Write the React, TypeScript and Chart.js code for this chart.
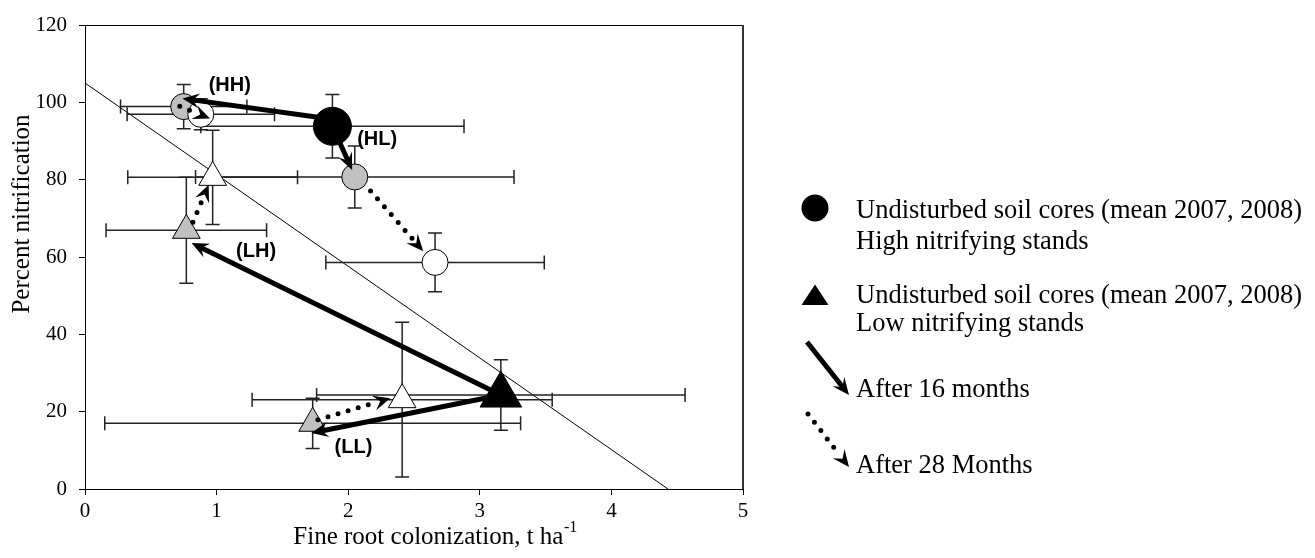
import { useEffect, useRef } from 'react';
import { Chart, registerables } from 'chart.js';

Chart.register(...registerables);

const SERIF = '"Liberation Serif", "Times New Roman", serif';
const SANS = '"Liberation Sans", Arial, sans-serif';

// Axis ticks
const xTickValues = [0, 1, 2, 3, 4, 5];
const yTickValues = [0, 20, 40, 60, 80, 100, 120];

// High nitrifying stands: undisturbed mean (black circle)
const highUndisturbedX = [1.88];
const highUndisturbedY = [93.8];
const highUndisturbedXErr = [1.0];
const highUndisturbedYErr = [8.2];

// High nitrifying stands after 16 months (grey circles): HH, HL
const high16X = [0.75, 2.05];
const high16Y = [98.9, 80.7];
const high16XErr = [0.48, 1.21];
const high16YErr = [5.7, 8.0];

// High nitrifying stands after 28 months (white circles): HH, HL
const high28X = [0.88, 2.66];
const high28Y = [96.9, 58.6];
const high28XErr = [0.56, 0.83];
const high28YErr = [4.0, 7.6];

// Low nitrifying stands: undisturbed mean (black triangle)
const lowUndisturbedX = [3.16];
const lowUndisturbedY = [24.3];
const lowUndisturbedXErr = [1.4];
const lowUndisturbedYErr = [9.1];

// Low nitrifying stands after 16 months (grey triangles): LH, LL
const low16X = [0.77, 1.73];
const low16Y = [66.9, 17.0];
const low16XErr = [0.61, 1.58];
const low16YErr = [13.7, 6.5];

// Low nitrifying stands after 28 months (white triangles): LH, LL
const low28X = [0.97, 2.41];
const low28Y = [80.6, 23.1];
const low28XErr = [0.645, 1.14];
const low28YErr = [12.2, 20.0];

// Reference line
const refLineX = [0, 4.43];
const refLineY = [105, 0];

// Arrows: after 16 months (solid), HH, HL, LH, LL
const solidFromX = [1.88, 1.88, 3.16, 3.16];
const solidFromY = [95.6, 93.8, 24.3, 24.3];
const solidToX = [0.74, 2.03, 0.81, 1.72];
const solidToY = [101.0, 82.5, 63.6, 14.5];

// Arrows: after 28 months (dotted), HH, HL, LH, LL
const dottedFromX = [0.72, 2.17, 0.82, 1.77];
const dottedFromY = [99.0, 77.1, 69.0, 17.9];
const dottedToX = [0.95, 2.57, 0.94, 2.32];
const dottedToY = [95.8, 61.5, 78.7, 23.5];

// Group annotations
const groupLabels = ['(HH)', '(HL)', '(LH)', '(LL)'];
const groupLabelX = [1.1, 2.22, 1.3, 2.04];
const groupLabelY = [104.4, 90.5, 61.5, 10.8];

const legendLines = [
  'Undisturbed soil cores (mean 2007, 2008)',
  'High nitrifying stands',
  'Undisturbed soil cores (mean 2007, 2008)',
  'Low nitrifying stands',
  'After 16 months',
  'After 28 Months',
];

const GREY = '#c0c0c0';

const toPts = (xs: number[], ys: number[]) => xs.map((x, i) => ({ x, y: ys[i] }));

const errSeries = [
  { x: highUndisturbedX, y: highUndisturbedY, xe: highUndisturbedXErr, ye: highUndisturbedYErr },
  { x: high16X, y: high16Y, xe: high16XErr, ye: high16YErr },
  { x: high28X, y: high28Y, xe: high28XErr, ye: high28YErr },
  { x: lowUndisturbedX, y: lowUndisturbedY, xe: lowUndisturbedXErr, ye: lowUndisturbedYErr },
  { x: low16X, y: low16Y, xe: low16XErr, ye: low16YErr },
  { x: low28X, y: low28Y, xe: low28XErr, ye: low28YErr },
];

function drawArrow(
  ctx: CanvasRenderingContext2D,
  x1: number, y1: number, x2: number, y2: number,
  dotted: boolean,
) {
  const lw = 5;
  const headLen = 17;
  const headW = 7.5;
  const dx = x2 - x1;
  const dy = y2 - y1;
  const len = Math.hypot(dx, dy) || 1;
  const ux = dx / len;
  const uy = dy / len;
  const nx = -uy;
  const ny = ux;
  const cut = dotted ? headLen * 0.95 : headLen * 0.6;
  ctx.save();
  ctx.strokeStyle = '#000';
  ctx.fillStyle = '#000';
  ctx.lineWidth = lw;
  if (dotted) {
    ctx.setLineDash([0, 10.5]);
    ctx.lineCap = 'round';
  } else {
    ctx.lineCap = 'butt';
  }
  ctx.beginPath();
  ctx.moveTo(x1, y1);
  ctx.lineTo(x2 - ux * cut, y2 - uy * cut);
  ctx.stroke();
  ctx.setLineDash([]);
  const bx = x2 - ux * headLen;
  const by = y2 - uy * headLen;
  ctx.beginPath();
  ctx.moveTo(x2, y2);
  ctx.lineTo(bx + nx * headW, by + ny * headW);
  ctx.lineTo(x2 - ux * headLen * 0.62, y2 - uy * headLen * 0.62);
  ctx.lineTo(bx - nx * headW, by - ny * headW);
  ctx.closePath();
  ctx.fill();
  ctx.restore();
}

const overlayPlugin = {
  id: 'overlay',
  beforeDatasetsDraw(chart: any) {
    const { ctx, chartArea: a, scales } = chart;
    const sx = scales.x;
    const sy = scales.y;
    ctx.save();
    // plot frame (top & right)
    ctx.strokeStyle = '#000';
    ctx.lineWidth = 1;
    ctx.beginPath();
    ctx.moveTo(a.left, Math.round(a.top) + 0.5);
    ctx.lineTo(a.right, Math.round(a.top) + 0.5);
    ctx.stroke();
    ctx.strokeStyle = '#333';
    ctx.lineWidth = 2;
    ctx.beginPath();
    ctx.moveTo(Math.round(a.right), a.top);
    ctx.lineTo(Math.round(a.right), a.bottom);
    ctx.stroke();

    // reference line
    ctx.strokeStyle = '#000';
    ctx.lineWidth = 1;
    ctx.beginPath();
    ctx.moveTo(sx.getPixelForValue(refLineX[0]), sy.getPixelForValue(refLineY[0]));
    ctx.lineTo(sx.getPixelForValue(refLineX[1]), sy.getPixelForValue(refLineY[1]));
    ctx.stroke();

    // error bars
    ctx.strokeStyle = '#222';
    ctx.lineWidth = 1.5;
    const cap = 7;
    errSeries.forEach((s) => {
      s.x.forEach((xv, i) => {
        const yv = s.y[i];
        const cx = sx.getPixelForValue(xv);
        const cy = sy.getPixelForValue(yv);
        const xl = sx.getPixelForValue(xv - s.xe[i]);
        const xr = sx.getPixelForValue(xv + s.xe[i]);
        const yt = sy.getPixelForValue(yv + s.ye[i]);
        const yb = sy.getPixelForValue(yv - s.ye[i]);
        ctx.beginPath();
        ctx.moveTo(xl, cy); ctx.lineTo(xr, cy);
        ctx.moveTo(xl, cy - cap); ctx.lineTo(xl, cy + cap);
        ctx.moveTo(xr, cy - cap); ctx.lineTo(xr, cy + cap);
        ctx.moveTo(cx, yt); ctx.lineTo(cx, yb);
        ctx.moveTo(cx - cap, yt); ctx.lineTo(cx + cap, yt);
        ctx.moveTo(cx - cap, yb); ctx.lineTo(cx + cap, yb);
        ctx.stroke();
      });
    });
    ctx.restore();
  },
  afterDatasetsDraw(chart: any) {
    const { ctx, scales } = chart;
    const sx = scales.x;
    const sy = scales.y;
    solidFromX.forEach((_, i) => {
      drawArrow(ctx,
        sx.getPixelForValue(solidFromX[i]), sy.getPixelForValue(solidFromY[i]),
        sx.getPixelForValue(solidToX[i]), sy.getPixelForValue(solidToY[i]), false);
    });
    dottedFromX.forEach((_, i) => {
      drawArrow(ctx,
        sx.getPixelForValue(dottedFromX[i]), sy.getPixelForValue(dottedFromY[i]),
        sx.getPixelForValue(dottedToX[i]), sy.getPixelForValue(dottedToY[i]), true);
    });
    ctx.save();
    ctx.fillStyle = '#000';
    ctx.font = `bold 20px ${SANS}`;
    ctx.textAlign = 'center';
    ctx.textBaseline = 'middle';
    groupLabels.forEach((t, i) => {
      ctx.fillText(t, sx.getPixelForValue(groupLabelX[i]), sy.getPixelForValue(groupLabelY[i]));
    });
    ctx.restore();
  },
  afterDraw(chart: any) {
    const { ctx, scales } = chart;
    const sx = scales.x;
    ctx.save();
    ctx.fillStyle = '#000';
    // x title with superscript
    const main = 'Fine root colonization, t ha';
    const sup = '-1';
    ctx.font = `25px ${SERIF}`;
    const wMain = ctx.measureText(main).width;
    ctx.font = `16px ${SERIF}`;
    const wSup = ctx.measureText(sup).width;
    const cx = sx.getPixelForValue(2.66);
    const startX = cx - (wMain + wSup) / 2;
    ctx.textAlign = 'left';
    ctx.textBaseline = 'alphabetic';
    ctx.font = `25px ${SERIF}`;
    ctx.fillText(main, startX, 543.5);
    ctx.font = `16px ${SERIF}`;
    ctx.fillText(sup, startX + wMain + 0.5, 532);

    // y title
    ctx.save();
    ctx.translate(22, 214);
    ctx.rotate(-Math.PI / 2);
    ctx.font = `25px ${SERIF}`;
    ctx.textAlign = 'center';
    ctx.textBaseline = 'middle';
    ctx.fillText('Percent nitrification', 0, 0);
    ctx.restore();

    // legend
    ctx.beginPath();
    ctx.arc(815, 208, 13.5, 0, Math.PI * 2);
    ctx.fill();
    ctx.beginPath();
    ctx.moveTo(815, 284.5);
    ctx.lineTo(828.5, 305);
    ctx.lineTo(801.5, 305);
    ctx.closePath();
    ctx.fill();
    drawArrow(ctx, 807, 342, 849, 395, false);
    drawArrow(ctx, 808, 414, 849, 467, true);

    ctx.font = `26.5px ${SERIF}`;
    ctx.textAlign = 'left';
    ctx.textBaseline = 'middle';
    const ys = [211, 242, 296, 324, 390, 466];
    legendLines.forEach((t, i) => ctx.fillText(t, 856, ys[i]));
    ctx.restore();
  },
};

export default function App() {
  const ref = useRef<HTMLCanvasElement>(null);
  useEffect(() => {
    const canvas = ref.current;
    if (!canvas) return;
    const pointDs = (label: string, xs: number[], ys: number[], style: string, r: number, fill: string) => ({
      label,
      data: toPts(xs, ys),
      pointStyle: style,
      pointRadius: r,
      pointHoverRadius: r,
      backgroundColor: fill,
      borderColor: '#000',
      borderWidth: 1,
      showLine: false,
    });
    const tickFont = { family: 'Liberation Serif', size: 21 };
    const chart = new Chart(canvas, {
      type: 'scatter',
      data: {
        datasets: [
          pointDs('High 28 months', high28X, high28Y, 'circle', 13, '#ffffff'),
          pointDs('Low 28 months', low28X, low28Y, 'triangle', 16, '#ffffff'),
          pointDs('High 16 months', high16X, high16Y, 'circle', 13, GREY),
          pointDs('Low 16 months', low16X, low16Y, 'triangle', 16, GREY),
          pointDs('High undisturbed', highUndisturbedX, highUndisturbedY, 'circle', 19, '#000000'),
          pointDs('Low undisturbed', lowUndisturbedX, lowUndisturbedY, 'triangle', 24, '#000000'),
        ] as any,
      },
      options: {
        animation: false,
        responsive: false,
        events: [],
        layout: { padding: { left: 0, top: 14, right: 572, bottom: 0 } },
        plugins: {
          legend: { display: false },
          tooltip: { enabled: false },
          title: { display: false },
        },
        scales: {
          x: {
            type: 'linear',
            min: 0,
            max: 5,
            afterBuildTicks: (s: any) => { s.ticks = xTickValues.map((v) => ({ value: v })); },
            afterFit: (s: any) => { s.height = 69; },
            ticks: { color: '#000', font: tickFont, padding: 4, maxRotation: 0 },
            grid: { drawOnChartArea: false, drawTicks: true, tickLength: 6, color: '#000', lineWidth: 1 },
            border: { display: true, color: '#000', width: 1 },
          },
          y: {
            type: 'linear',
            min: 0,
            max: 120,
            afterBuildTicks: (s: any) => { s.ticks = yTickValues.map((v) => ({ value: v })); },
            afterFit: (s: any) => { s.width = 85; },
            ticks: { color: '#000', font: tickFont, padding: 12 },
            grid: { drawOnChartArea: false, drawTicks: true, tickLength: 6, color: '#000', lineWidth: 1 },
            border: { display: true, color: '#000', width: 1 },
          },
        },
      } as any,
      plugins: [overlayPlugin],
    });
    return () => chart.destroy();
  }, []);
  return (
    <div style={{ position: 'fixed', left: 0, top: 0, width: 1315, height: 558, background: '#fff' }}>
      <canvas ref={ref} width={1315} height={558} style={{ display: 'block', width: 1315, height: 558 }} />
    </div>
  );
}
